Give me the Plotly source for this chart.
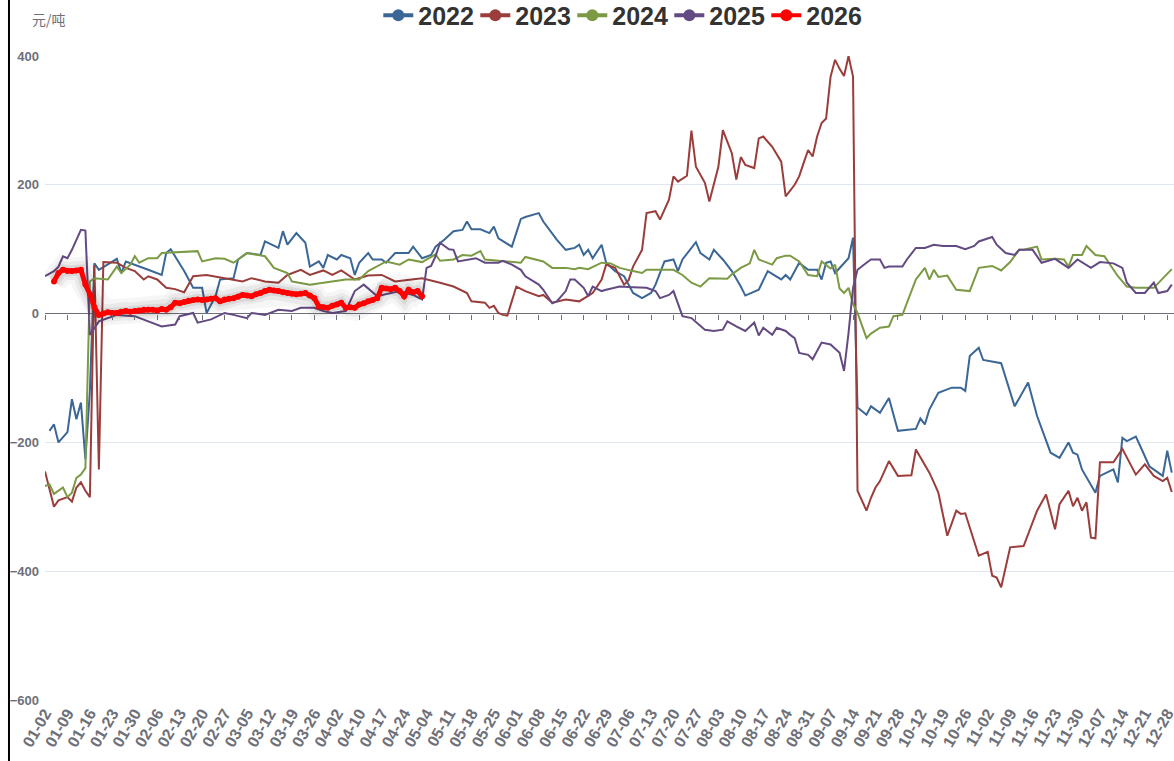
import plotly.graph_objects as go

# x positions are trading-day indices; one tick label every 5 trading days
tick_labels = [
    "01-02", "01-09", "01-16", "01-23", "01-30", "02-06", "02-13", "02-20", "02-27",
    "03-05", "03-12", "03-19", "03-26", "04-02", "04-10", "04-17", "04-24", "05-04",
    "05-11", "05-18", "05-25", "06-01", "06-08", "06-15", "06-22", "06-29", "07-06",
    "07-13", "07-20", "07-27", "08-03", "08-10", "08-17", "08-24", "08-31", "09-07",
    "09-14", "09-21", "09-28", "10-12", "10-19", "10-26", "11-02", "11-09", "11-16",
    "11-23", "11-30", "12-07", "12-14", "12-21", "12-28",
]
tick_step = 5
n_days = 252

d2022 = {1: -182, 2: -172, 3: -200, 4: -192, 5: -184, 6: -133, 7: -164, 8: -138, 9: -226, 10: -120,
         11: 78, 12: 68, 16: 85, 17: 63, 18: 81, 23: 68, 26: 60, 27: 94, 28: 100, 31: 66, 33: 40,
         35: 40, 36: 1, 38: 27, 39: 53, 42: 55, 43: 84, 45: 94, 48: 91, 49: 112, 52: 102, 53: 128,
         54: 107, 56: 125, 58: 110, 59: 73, 61: 81, 62: 71, 63: 91, 65: 84, 66: 91, 68: 86, 69: 60,
         70: 79, 72: 94, 73: 84, 75: 84, 76: 79, 78: 94, 81: 94, 82: 104, 84: 86, 86: 91, 87: 104,
         89: 115, 91: 128, 93: 130, 94: 143, 95: 131, 97: 131, 99: 125, 100: 135, 101: 117, 104: 104,
         106: 147, 107: 150, 110: 156, 111: 143, 114: 115, 116: 99, 118: 102, 119: 107, 120: 91,
         121: 99, 122: 86, 124: 107, 125: 79, 127: 66, 129: 58, 131: 32, 133: 24, 135: 32, 136: 45,
         138: 81, 140: 84, 141: 66, 142: 84, 145: 111, 146: 94, 148: 84, 149: 99, 151: 84, 153: 66,
         155: 42, 156: 28, 159: 37, 161: 66, 164: 53, 165: 60, 166: 53, 168: 79, 170: 68, 172: 68,
         173: 53, 174: 79, 175: 81, 176: 63, 179: 86, 180: 118, 181: -146, 183: -157, 184: -144,
         186: -154, 188: -131, 190: -182, 194: -179, 195: -163, 196: -172, 197: -149, 199: -123,
         202: -115, 204: -115, 205: -120, 206: -66, 208: -53, 209: -72, 213: -77, 216: -144,
         219: -107, 221: -159, 224: -216, 226: -224, 228: -200, 229: -216, 230: -219, 231: -242,
         234: -278, 235: -252, 238: -242, 239: -262, 240: -193, 241: -198, 243: -191, 244: -206,
         246: -237, 249: -252, 250: -213, 251: -247}

d2023 = {0: -245, 2: -300, 3: -290, 5: -285, 6: -292, 7: -270, 8: -262, 9: -275, 10: -285, 11: 75,
         12: -242, 13: 80, 16: 79, 18: 71, 20: 66, 22: 53, 23: 58, 25: 53, 27: 40, 29: 38, 31: 33,
         33: 58, 36: 60, 41: 54, 44: 50, 46: 55, 49: 50, 52: 48, 54: 60, 57: 68, 59: 60, 62: 67,
         64: 60, 66: 67, 69: 53, 72: 59, 75: 60, 78: 50, 82: 53, 84: 55, 88: 48, 91: 42, 94: 32,
         95: 19, 98: 17, 99: 9, 100: 12, 101: 1, 102: -2, 103: -3, 105: 42, 107: 35, 110: 27,
         111: 29, 113: 17, 116: 22, 119: 19, 121: 27, 122: 32, 124: 53, 125: 76, 127: 71, 128: 58,
         129: 45, 130: 52, 131: 73, 133: 99, 134: 156, 136: 159, 137: 146, 139: 177, 140: 213,
         141: 205, 143: 214, 144: 284, 145: 228, 147: 203, 148: 174, 150: 228, 151: 285, 153: 249,
         154: 208, 155: 243, 156: 231, 158: 226, 159: 272, 160: 275, 162: 259, 164: 236, 165: 182,
         167: 200, 168: 213, 169: 234, 170: 254, 171: 244, 172: 275, 173: 296, 174: 303, 175: 368,
         176: 394, 177: 380, 178: 369, 179: 400, 180: 368, 181: -275, 183: -306, 184: -286,
         185: -270, 186: -260, 188: -229, 190: -252, 193: -251, 194: -211, 197: -247, 198: -262,
         199: -278, 201: -345, 203: -306, 204: -311, 205: -310, 208: -376, 210: -370, 211: -407,
         212: -410, 213: -425, 215: -363, 218: -361, 221: -306, 223: -281, 225: -335, 226: -296,
         228: -275, 229: -299, 230: -286, 231: -306, 232: -293, 233: -348, 234: -349, 235: -231,
         238: -231, 240: -210, 241: -224, 243: -250, 245: -234, 247: -252, 249: -260, 250: -255,
         251: -277}

d2024 = {0: -268, 1: -265, 2: -280, 3: -275, 4: -270, 5: -285, 6: -278, 7: -255, 8: -250, 9: -240,
         10: 50, 11: 55, 14: 53, 16: 73, 17: 63, 19: 76, 20: 89, 21: 79, 23: 86, 25: 86, 26: 94,
         34: 97, 35: 81, 38: 86, 40: 85, 42: 79, 45: 94, 49: 89, 51: 71, 54: 63, 55: 50, 59: 45,
         62: 48, 67: 53, 70: 53, 72: 66, 76: 81, 79: 76, 81: 84, 84: 80, 87: 92, 88: 82, 91: 84,
         93: 91, 95: 90, 97: 97, 98: 84, 101: 82, 104: 81, 106: 79, 107: 88, 109: 84, 111: 81,
         113: 71, 116: 71, 118: 69, 119: 71, 121: 69, 124: 79, 126: 78, 128: 71, 131: 66, 133: 63,
         134: 68, 137: 68, 140: 68, 142: 60, 144: 48, 146: 42, 148: 55, 152: 54, 153: 61, 155: 71,
         157: 78, 158: 99, 159: 84, 162: 76, 163: 86, 165: 90, 166: 90, 168: 81, 169: 71, 170: 60,
         172: 58, 173: 81, 175: 70, 176: 76, 177: 39, 178: 32, 179: 40, 180: 15, 181: 1, 183: -38,
         184: -31, 186: -22, 188: -20, 189: -4, 191: -2, 194: 53, 196: 71, 197: 53, 198: 68,
         199: 57, 201: 59, 203: 37, 206: 35, 208: 71, 211: 74, 213: 67, 215: 80, 217: 99, 218: 99,
         221: 104, 222: 84, 225: 85, 227: 84, 228: 73, 229: 91, 231: 91, 232: 105, 234: 91,
         236: 89, 237: 78, 239: 58, 241: 42, 243: 40, 247: 40, 249: 55, 251: 69}

d2025 = {0: 58, 2: 66, 3: 73, 4: 89, 5: 86, 6: 99, 8: 130, 9: 129, 10: -33, 12: -12, 16: -2, 20: -4,
         23: -12, 26: -20, 29: -17, 30: -4, 33: 1, 34: -14, 37: -9, 40: 1, 42: -2, 45: -7, 46: 1,
         49: -2, 52: 6, 55: 4, 57: 9, 60: 9, 62: 4, 64: 1, 67: 4, 69: 35, 71: 45, 73: 32, 74: 27,
         79: 35, 82: 29, 84: 22, 85: 71, 86: 74, 87: 89, 88: 110, 90: 100, 91: 99, 92: 81, 96: 86,
         98: 79, 101: 79, 102: 82, 104: 76, 106: 68, 107: 58, 110: 45, 111: 37, 113: 16, 114: 19,
         116: 35, 117: 53, 118: 53, 120: 40, 121: 27, 122: 42, 124: 35, 125: 37, 127: 40, 128: 42,
         131: 41, 134: 40, 136: 35, 137: 24, 139: 29, 140: 35, 142: -4, 144: -7, 147: -25, 149: -27,
         151: -25, 152: -12, 154: -20, 156: -27, 158: -14, 159: -34, 160: -22, 162: -33, 163: -22,
         165: -27, 166: -33, 167: -38, 168: -61, 170: -64, 171: -71, 173: -45, 175: -48, 177: -61,
         178: -89, 179: -30, 180: 40, 181: 68, 183: 79, 184: 84, 186: 84, 187: 71, 188: 73, 191: 73,
         192: 84, 194: 102, 196: 102, 198: 107, 200: 105, 203: 105, 205: 100, 207: 105, 208: 112,
         211: 119, 212: 107, 214: 94, 216: 91, 217: 99, 220: 99, 222: 79, 225: 85, 228: 71, 230: 84,
         233: 71, 235: 80, 238: 78, 240: 71, 241: 48, 243: 32, 245: 32, 247: 48, 248: 32, 250: 35,
         251: 45}

# 2026: daily values from the 3rd trading day
start_2026 = 2
y_2026 = [50, 63, 68, 66, 66, 67, 68, 45, 30, 10, -2, 0, 2, 1, 1, 3, 4, 3, 4, 5, 6, 6, 6, 5, 7, 6,
          10, 17, 16, 18, 20, 21, 22, 21, 22, 23, 24, 19, 22, 23, 24, 26, 29, 28, 27, 30, 32, 35,
          37, 36, 35, 33, 32, 31, 30, 31, 32, 28, 24, 11, 10, 9, 12, 14, 17, 9, 10, 9, 14, 16, 19,
          21, 24, 40, 39, 38, 40, 35, 27, 37, 33, 35, 27]

series = [
    ("2022", d2022, "#3b6796"),
    ("2023", d2023, "#9a3d3b"),
    ("2024", d2024, "#7b9a43"),
    ("2025", d2025, "#634a82"),
]
red = "#ff0000"
axis_grey = "#6e7079"
font_main = "Liberation Sans, Arial, Noto Sans CJK SC, sans-serif"

fig = go.Figure()

for name, data, color in series:
    fig.add_trace(go.Scatter(
        x=list(data.keys()), y=list(data.values()), mode="lines",
        line=dict(color=color, width=2), showlegend=False, hoverinfo="skip",
    ))

x_2026 = list(range(start_2026, start_2026 + len(y_2026)))
# soft shadow under the 2026 line
for w, a in [(26, 0.035), (18, 0.05), (11, 0.07)]:
    fig.add_trace(go.Scatter(
        x=x_2026, y=y_2026, mode="lines",
        line=dict(color=f"rgba(0,0,0,{a})", width=w),
        showlegend=False, hoverinfo="skip",
    ))
fig.add_trace(go.Scatter(
    x=x_2026, y=y_2026, mode="lines+markers",
    line=dict(color=red, width=5), marker=dict(color=red, size=6),
    showlegend=False, hoverinfo="skip",
))

# legend entries (line + dot icons)
for name, color in [(s[0], s[2]) for s in series] + [("2026", red)]:
    fig.add_trace(go.Scatter(
        x=[None], y=[None], mode="lines+markers", name=name,
        line=dict(color=color, width=4), marker=dict(color=color, size=12),
    ))

# empty trace so the zero-line tick axis is drawn
fig.add_trace(go.Scatter(x=[None], y=[None], xaxis="x2", showlegend=False, hoverinfo="skip"))

tick_vals = [i * tick_step for i in range(len(tick_labels))]
x_range = [0, n_days - 0.5]

fig.update_layout(
    width=1174, height=761,
    paper_bgcolor="white", plot_bgcolor="white",
    margin=dict(l=45, r=0, t=56, b=61, autoexpand=False),
    font=dict(family=font_main, color=axis_grey),
    showlegend=True,
    legend=dict(
        orientation="h", x=0.51, xanchor="center", y=1.063, yanchor="middle",
        font=dict(size=25, color="#333333", family=font_main, weight="bold"),
        itemwidth=30, entrywidth=52, entrywidthmode="pixels",
        tracegroupgap=0, bgcolor="rgba(0,0,0,0)",
    ),
    xaxis=dict(
        range=x_range, tickmode="array", tickvals=tick_vals, ticktext=tick_labels,
        tickangle=-60, showgrid=False, zeroline=False, showline=False, ticks="",
        automargin=False, ticklabeloverflow="allow",
        tickfont=dict(size=16, color=axis_grey, weight="bold"),
    ),
    xaxis2=dict(
        overlaying="x", anchor="free", position=0.6, range=x_range,
        tickmode="array", tickvals=tick_vals, showticklabels=False,
        ticks="outside", ticklen=5, tickcolor=axis_grey, tickwidth=1,
        showgrid=False, zeroline=False, showline=False, automargin=False,
    ),
    yaxis=dict(
        range=[-600, 400], tickmode="array", tickvals=[-600, -400, -200, 0, 200, 400],
        showgrid=True, gridcolor="#e0e6f1", gridwidth=1,
        zeroline=True, zerolinecolor=axis_grey, zerolinewidth=1,
        showline=False, ticks="", ticklabelstandoff=5, automargin=False,
        tickfont=dict(size=13, color=axis_grey, weight="bold"),
    ),
    annotations=[dict(
        text="元/吨", xref="paper", yref="paper", x=-0.0133, y=1.0575,
        xanchor="left", yanchor="middle", showarrow=False,
        font=dict(size=14, color=axis_grey, family="Noto Sans CJK SC"),
    )],
    shapes=[dict(
        type="line", xref="paper", yref="paper", x0=-0.0319, x1=-0.0319, y0=-0.1, y1=1.1,
        line=dict(color="black", width=2),
    )],
)

# drop the default page margin so the figure fills the window without scrollbars
fig.write_html(
    "out.html",
    config={"displayModeBar": False},
    post_script="document.body.style.margin='0';document.body.style.overflow='hidden';",
)
